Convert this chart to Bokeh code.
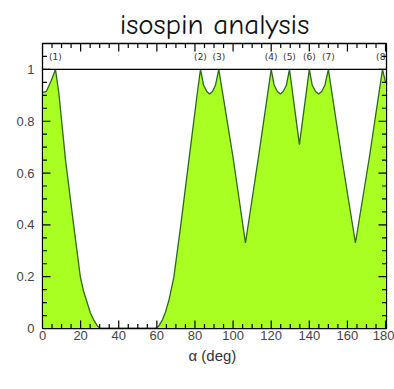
import math
from bokeh.plotting import figure
from bokeh.models import Span, FixedTicker, Range1d
from bokeh.core.properties import value
from bokeh.embed import file_html
from bokeh.resources import INLINE

# curve (alpha in deg, value)
alpha = [0, 2, 4.5, 6.8, 8.6, 12.1, 16.5, 19.9, 21.5, 23.1, 25, 27, 28.8, 30.4, 40, 50, 59.3,
         61, 62.8, 64.5, 66.3, 68.9, 72.4, 76.8, 81.2, 82.9, 84.5, 86.2, 87.7, 89.2, 90.8, 92.5,
         100, 106.5, 113.5, 120, 121.5, 123.3, 124.8, 126.3, 128, 129.6, 134.8,
         140, 141.5, 143.3, 144.9, 146.5, 148.2, 150, 157, 164.2, 171.5, 178.4, 180]
iso = [0.91, 0.915, 0.955, 1.0, 0.907, 0.649, 0.39, 0.197, 0.145, 0.108, 0.063, 0.031, 0.01, 0.0, 0.0, 0.0, 0.0,
       0.01, 0.031, 0.063, 0.108, 0.197, 0.39, 0.649, 0.907, 1.0, 0.94, 0.915, 0.905, 0.915, 0.94, 1.0,
       0.66, 0.33, 0.67, 1.0, 0.94, 0.915, 0.905, 0.915, 0.94, 1.0, 0.71,
       1.0, 0.94, 0.915, 0.905, 0.915, 0.94, 1.0, 0.66, 0.33, 0.66, 1.0, 0.95]

peak_x = [6.8, 82.9, 92.5, 120, 129.6, 140, 150, 178.4]
peak_labels = ["(1)", "(2)", "(3)", "(4)", "(5)", "(6)", "(7)", "(8)"]
label_level = [1.046] * 8

X_MIN, X_MAX = 0, 180.5
Y_MIN, Y_MAX = 0, 1.1
x_ticks = [0, 20, 40, 60, 80, 100, 120, 140, 160, 180]
x_minor = [v * 5 for v in range(0, 37) if v % 4 != 0]
y_ticks = [0, 0.2, 0.4, 0.6, 0.8, 1.0]
y_minor = [round(v * 0.05, 2) for v in range(0, 23) if v % 4 != 0]
y_tick_labels = ["0", "0.2", "0.4", "0.6", "0.8", "1"]

p = figure(width=394, height=389, output_backend="svg", toolbar_location=None,
           x_range=Range1d(X_MIN, X_MAX), y_range=Range1d(Y_MIN, Y_MAX),
           min_border_left=42, min_border_right=8, min_border_top=43, min_border_bottom=61,
           x_axis_label="α  (deg)")
p.title.text = "isospin analysis"
p.title.align = "center"
p.title.text_font = "Comic Neue, Open Sans"
p.title.text_font_size = "29px"
p.title.text_font_style = "normal"
p.title.text_color = "#111111"
p.title.offset = 0
p.title.standoff = 6
p.grid.visible = False
p.outline_line_color = "black"
p.outline_line_width = 1.3
p.background_fill_color = "white"
p.border_fill_color = "white"

p.varea(x=alpha, y1=0, y2=iso, fill_color="#aaff22")
p.line(x=alpha, y=iso, line_color="#2a6a1a", line_width=1.3)
p.add_layout(Span(location=1.0, dimension="width", line_color="black", line_width=1.2))
p.text(x=peak_x, y=label_level, text=peak_labels, text_font_size="9px",
       text_color="#333333", text_align="center", text_baseline="middle",
       text_font=value("DejaVu Sans"))

# inward tick marks on all four sides (dash markers centred on the frame edge)
tk = dict(marker="dash", line_color="black", line_width=1.2)
for yv in (Y_MIN, Y_MAX):
    p.scatter(x=x_ticks, y=[yv] * len(x_ticks), size=16, angle=math.pi / 2, **tk)
    p.scatter(x=x_minor, y=[yv] * len(x_minor), size=9, angle=math.pi / 2, **tk)
for xv in (X_MIN, X_MAX):
    p.scatter(x=[xv] * len(y_ticks), y=y_ticks, size=16, **tk)
    p.scatter(x=[xv] * len(y_minor), y=y_minor, size=9, **tk)

def style_axis(ax, ticks):
    ax.ticker = FixedTicker(ticks=ticks)
    ax.major_tick_in = 0
    ax.major_tick_out = 0
    ax.minor_tick_in = 0
    ax.minor_tick_out = 0
    ax.axis_line_color = "black"
    ax.major_label_text_font_size = "13px"
    ax.major_label_text_color = "#444444"
    ax.major_label_text_font = "Liberation Sans"

xa = p.xaxis[0]
style_axis(xa, x_ticks)
xa.major_label_standoff = 2
xa.axis_label_text_font_size = "15px"
xa.axis_label_text_font_style = "normal"
xa.axis_label_text_color = "#333333"
xa.axis_label_text_font = "Liberation Sans"
xa.axis_label_standoff = 4

ya = p.yaxis[0]
style_axis(ya, y_ticks)
ya.major_label_overrides = {t: l for t, l in zip(y_ticks, y_tick_labels)}
ya.major_label_standoff = 8

open("out.html", "w").write(file_html(p, INLINE))
